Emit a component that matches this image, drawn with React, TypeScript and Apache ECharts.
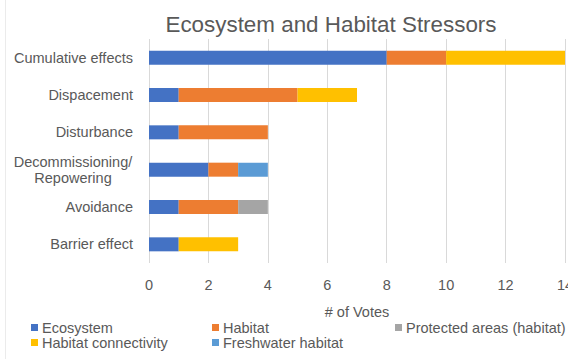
import React, { useEffect, useRef } from "react";
import * as echarts from "echarts";

const categories = [
  "Cumulative effects",
  "Dispacement",
  "Disturbance",
  "Decommissioning/\nRepowering",
  "Avoidance",
  "Barrier effect",
];
const seriesNames = [
  "Ecosystem",
  "Habitat",
  "Protected areas (habitat)",
  "Habitat connectivity",
  "Freshwater habitat",
];
const ecosystem = [8, 1, 1, 2, 1, 1];
const habitat = [2, 4, 3, 1, 2, 0];
const protectedAreas = [0, 0, 0, 0, 1, 0];
const connectivity = [4, 2, 0, 0, 0, 2];
const freshwater = [0, 0, 0, 1, 0, 0];
const seriesValues = [ecosystem, habitat, protectedAreas, connectivity, freshwater];
const colors = ["#4472C4", "#ED7D31", "#A5A5A5", "#FFC000", "#5B9BD5"];

const FONT = "'Liberation Sans', Arial, sans-serif";
const GREY = "#595959";
const FS = 14.5;

const legendPos = [
  { left: 31, top: 320 },
  { left: 212, top: 320 },
  { left: 395, top: 320 },
  { left: 31, top: 335 },
  { left: 212, top: 335 },
];

export default function App() {
  const ref = useRef<HTMLDivElement>(null);
  useEffect(() => {
    if (!ref.current) return;
    const chart = echarts.init(ref.current, null, { renderer: "svg" });
    chart.setOption({
      animation: false,
      backgroundColor: "#ffffff",
      title: {
        text: "Ecosystem and Habitat Stressors",
        left: 326,
        top: 8,
        textAlign: "center",
        textStyle: { fontFamily: FONT, fontSize: 22.4, fontWeight: "normal", color: GREY },
      },
      graphic: [
        {
          type: "line",
          shape: { x1: 5.5, y1: 0, x2: 5.5, y2: 359 },
          style: { stroke: "#ebebeb", lineWidth: 1 },
        },
      ],
      legend: seriesNames.map((n, i) => ({
        data: [n],
        left: legendPos[i].left,
        top: legendPos[i].top,
        padding: 0,
        icon: "rect",
        itemWidth: 7,
        itemHeight: 7,
        textStyle: { fontFamily: FONT, fontSize: FS, color: GREY, padding: [0, 0, 0, -1] },
      })),
      grid: { left: 149, right: 3, top: 39, bottom: 96, containLabel: false, outerBoundsMode: "none" },
      xAxis: {
        type: "value",
        min: 0,
        max: 14,
        interval: 2,
        name: "# of Votes",
        nameLocation: "middle",
        nameGap: 41,
        nameTextStyle: { fontFamily: FONT, fontSize: FS, color: GREY },
        axisLine: { show: false },
        axisTick: { show: false },
        axisLabel: { fontFamily: FONT, fontSize: FS, color: GREY, margin: 14, hideOverlap: false },
        splitLine: { show: true, lineStyle: { color: "#D9D9D9", width: 1 } },
      },
      yAxis: {
        type: "category",
        data: categories,
        inverse: true,
        axisLine: { show: false },
        axisTick: { show: false },
        splitLine: { show: false },
        axisLabel: {
          fontFamily: FONT,
          fontSize: FS,
          color: GREY,
          margin: 16,
          lineHeight: 16,
          formatter: (v: string) =>
            v.indexOf("\n") >= 0
              ? v
                  .split("\n")
                  .map((s) => "{c|" + s + "}")
                  .join("\n")
              : v,
          rich: {
            c: { width: 120, align: "center", fontFamily: FONT, fontSize: FS, color: GREY, lineHeight: 16 },
          },
        },
      },
      series: seriesNames.map((n, i) => ({
        name: n,
        type: "bar",
        stack: "total",
        barWidth: 14,
        itemStyle: { color: colors[i] },
        data: seriesValues[i],
      })),
    });
    return () => chart.dispose();
  }, []);
  return (
    <div
      ref={ref}
      style={{ position: "fixed", left: 0, top: 0, width: 568, height: 359 }}
    />
  );
}
